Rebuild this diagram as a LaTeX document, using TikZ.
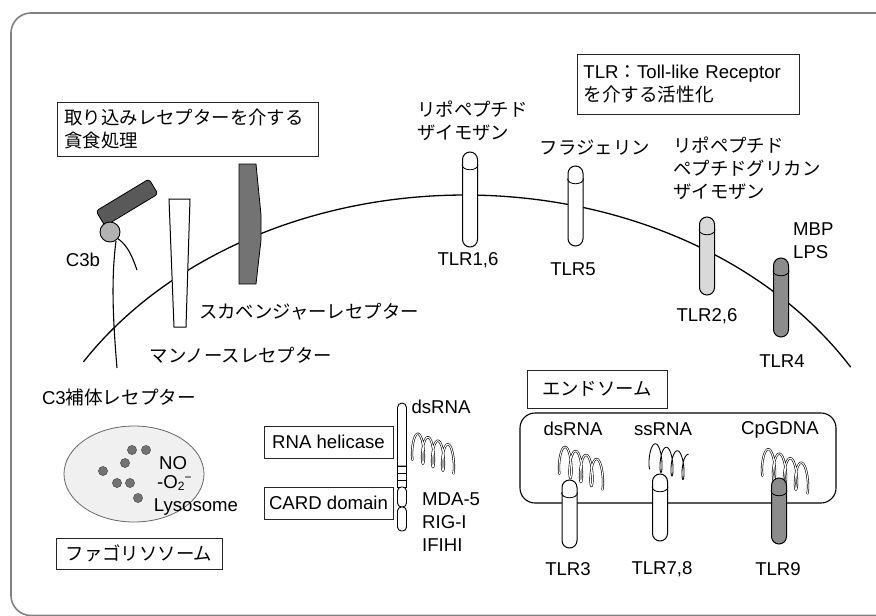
\documentclass[tikz,border=0pt]{standalone}
\usepackage{fontspec}
\setmainfont{Liberation Sans}
\newfontfamily\jp{Noto Sans CJK JP}
\usetikzlibrary{calc}

% receptor drawn as a cylinder: name, centre x, top y, bottom y, fill
\newcommand\tlrcyl[5]{%
  \node[cyl, fill=#5, minimum height={(#4)-(#3)}] (#1) at ({#2},{((#3)+(#4))/2}) {};
  \draw[capline] ([yshift=-13pt]#1.north west) .. controls +(0,-7pt) and +(0,-7pt) .. ([yshift=-13pt]#1.north east);
}
% coiled nucleic acid strand: style, start x, start y, loops, period, height, drop per loop
\newcommand\rnacoil[7]{%
  \draw[#1] plot[domain=0:{#4*360}, samples={round(#4*40)}, smooth]
    ({#2 + \x/360*#5 - 1.9*#5/6.283*sin(\x)}, {#3 - #6/2*(1-cos(\x)) + \x/360*#7});
}

\tikzset{
  lbl/.style={inner sep=0pt, align=left, font=\fontsize{18.6}{23}\selectfont},
  jlbl/.style={inner sep=0pt, align=left, font=\jp\fontsize{18.4}{23}\selectfont},
  tbox/.style={draw=black!85, line width=0.8pt, inner ysep=0pt, inner xsep=7pt, align=left},
  cyl/.style={draw, line width=1pt, minimum width=15pt, inner sep=0pt, rounded corners=7.5pt},
  capline/.style={line width=0.8pt},
  membrane/.style={line width=1.3pt},
  ssrna/.style={line width=0.85pt, line cap=round},
  dsrna/.style={line width=0.6pt, double, double distance=1pt},
  frame/.style={draw=black!50, line width=1.6pt, rounded corners=20pt},
}

\begin{document}
\begin{tikzpicture}[x=1pt,y=-1pt]
\useasboundingbox (0,0) rectangle (876,616);
\clip (0,0) rectangle (876,616);
% outer panel border, running off the right and bottom edges
\draw[frame] (920,13) -- (11,13) -- (11,615.5) -- (920,615.5);

% cell membrane
\draw[membrane] plot[domain=31:148, samples=90, smooth]
  ({465+450*cos(\x)}, {550-355*sin(\x)});

% endosome
\draw[line width=1.1pt, rounded corners=15pt] (520,413) rectangle (836,503);

% ---------------- phagocytic receptors
% C3 complement receptor
\draw[line width=1.1pt] (116,241) .. controls (111,280) and (113,320) .. (117,368);
\fill[black!65, draw=black, line width=0.8pt, rounded corners=3pt]
  (96,211) -- (149,179) -- (158,194) -- (105,226) -- cycle;
\node[circle, draw, line width=0.9pt, fill=black!30, minimum size=20pt, inner sep=0pt] (c3b) at (110,232) {};
\draw[line width=1.1pt] (c3b.-40) .. controls (128,246) and (132,256) .. (137,270);
\node[lbl] (c3blabel) at (83,260) {C3b};

% mannose receptor
\draw[fill=white, line width=1pt] (169,199) -- (190,199) -- (186,327) -- (174,327) -- cycle;
% scavenger receptor
\draw[fill=black!55, line width=0.8pt] (239,164) -- (256,164) -- (261,215) -- (261,240) -- (256,284) -- (239,284) -- cycle;

\node[jlbl] (scav) at (309,312) {スカベンジャーレセプター};
\node[jlbl] (mann) at (241,355) {マンノースレセプター};
\node[lbl] (c3r) at (119,397) {C3{\jp 補体レセプター}};

\node[tbox, jlbl, text width=247pt, minimum height=54pt, anchor=north west, inner xsep=7pt] (phagobox) at (57,102)
  {取り込みレセプターを介する\\貪食処理};

% ---------------- Toll-like receptors on the surface
\tlrcyl{tlr16}{470}{152}{247}{white}
\tlrcyl{tlr5}{575.5}{166}{246}{white}
\tlrcyl{tlr26}{707}{217}{295}{black!15}
\tlrcyl{tlr4}{781}{258}{337}{black!45}

\node[jlbl, anchor=west] (lig16) at (417,121) {リポペプチド\\ザイモザン};
\node[jlbl] (lig5) at (595,148) {フラジェリン};
\node[jlbl, anchor=west] (lig26) at (673,168) {リポペプチド\\ペプチドグリカン\\ザイモザン};
\node[lbl, anchor=west] (lig4) at (793,241) {MBP\\LPS};

\node[lbl] (t16) at (468,260) {TLR1,6};
\node[lbl] (t5) at (573,269) {TLR5};
\node[lbl] (t26) at (707,316) {TLR2,6};
\node[lbl] (t4) at (782,361) {TLR4};

\node[tbox, lbl, text width=210pt, minimum height=60pt, anchor=north west, inner xsep=6pt] (tlrbox) at (577,54)
  {TLR{\jp ：}Toll-like Receptor\\{\jp を介する活性化}};

% ---------------- phagolysosome
\draw[draw=black!60, fill=black!6, line width=0.8pt] (134,474) ellipse [x radius=70, y radius=48];
\foreach \px/\py in {132/450, 146/450, 125/463, 103/471, 117/483, 130/483, 138/498}
  \fill[black!55, draw=black!75, line width=0.4pt] (\px,\py) circle [radius=4.6];
\node[lbl, anchor=west] (no) at (159,463) {NO};
\node[lbl, anchor=west] (o2) at (157,483) {-O\raisebox{-0.3ex}{\fontsize{12}{12}\selectfont 2}\raisebox{0.7ex}{\fontsize{12}{12}\selectfont −}};
\node[lbl] (lyso) at (196,507) {Lysosome};
\node[tbox, jlbl, minimum width=166pt, minimum height=31pt] (phagolyso) at (139,553.5) {ファゴリソソーム};

% ---------------- cytosolic RNA helicase
\rnacoil{dsrna}{413}{460}{4}{10}{28}{3.5}
\draw[fill=white, line width=0.9pt] (397.5,466) [rounded corners=4.5pt] -- (397.5,403) -- (406.5,403) [sharp corners] -- (406.5,466) -- cycle;
\draw[fill=white, line width=0.9pt] (397.5,466) rectangle (406.5,473);
\draw[fill=white, line width=0.9pt] (397.5,473) rectangle (406.5,480);
\draw[fill=white, line width=0.9pt] (397.5,480) rectangle (406.5,487);
\draw[fill=white, line width=0.9pt, rounded corners=4pt] (397.5,487) rectangle (406.5,507);
\draw[fill=white, line width=0.9pt, rounded corners=4pt] (397.5,507) rectangle (406.5,531);

\node[lbl] (dsrna1) at (441,407) {dsRNA};
\node[lbl, anchor=west] (mda) at (422,522) {MDA-5\\RIG-I\\IFIHI};
\node[tbox, lbl, minimum width=129pt, minimum height=32pt, inner xsep=2pt] (helibox) at (328.5,442) {RNA helicase};
\node[tbox, lbl, minimum width=129pt, minimum height=32pt, inner xsep=2pt] (cardbox) at (328.5,503) {CARD domain};

% ---------------- endosomal Toll-like receptors
\node[tbox, jlbl, minimum width=140pt, minimum height=38pt] (endobox) at (597,389) {エンドソーム};
\node[lbl] (dsrna2) at (573,429) {dsRNA};
\node[lbl] (ssrna) at (663,429) {ssRNA};
\node[lbl] (cpg) at (780,430) {CpGDNA};

\rnacoil{dsrna}{560}{474}{4}{10.5}{29}{4}
\rnacoil{ssrna}{650}{469}{3.5}{11}{27}{3.5}
\rnacoil{dsrna}{763}{476}{4}{11}{29}{4.5}

\tlrcyl{tlr3}{569.5}{480}{548}{white}
\tlrcyl{tlr78}{660}{474}{541}{white}
\tlrcyl{tlr9}{779}{478}{544}{black!45}

\node[lbl] (t3) at (568,569) {TLR3};
\node[lbl] (t78) at (662,569) {TLR7,8};
\node[lbl] (t9) at (778,569) {TLR9};
\end{tikzpicture}
\end{document}
